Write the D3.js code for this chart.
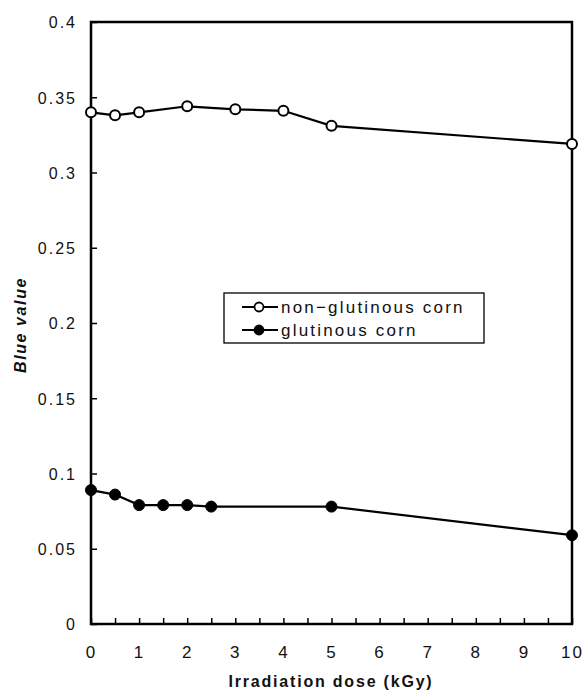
<!DOCTYPE html>
<html>
<head>
<meta charset="utf-8">
<script src="https://cdn.jsdelivr.net/npm/d3@7"></script>
<style>
  html, body { margin: 0; padding: 0; background: #fff; }
  svg { display: block; }
  text { font-family: "Liberation Sans", Arial, Helvetica, sans-serif; fill: #111; }
</style>
</head>
<body>
<svg id="chart" width="586" height="690"></svg>
<script>
// ---- data ----
const nonGlutinousDose  = [0, 0.5, 1, 2, 3, 4, 5, 10];
const nonGlutinousValue = [0.340, 0.338, 0.340, 0.344, 0.342, 0.341, 0.331, 0.319];
const glutinousDose     = [0, 0.5, 1, 1.5, 2, 2.5, 5, 10];
const glutinousValue    = [0.089, 0.086, 0.079, 0.079, 0.079, 0.078, 0.078, 0.059];
const xTickValues = [0, 1, 2, 3, 4, 5, 6, 7, 8, 9, 10];
const xMinorTicks = d3.range(0, 10.01, 0.5);
const yTickValues = [0, 0.05, 0.1, 0.15, 0.2, 0.25, 0.3, 0.35, 0.4];
const seriesNames = ["non\u2212glutinous corn", "glutinous corn"];

const svg = d3.select("#chart");
const L = 91, R = 572, T = 22, B = 624;

const x = d3.scaleLinear().domain([0, 10]).range([L, R]);
const y = d3.scaleLinear().domain([0, 0.4]).range([B, T]);

// frame
svg.append("rect").attr("x", L).attr("y", T).attr("width", R - L).attr("height", B - T)
  .attr("fill", "none").attr("stroke", "#000").attr("stroke-width", 2.5);

// y axis
const yAxis = d3.axisLeft(y).tickValues(yTickValues).tickSize(-6).tickPadding(14)
  .tickFormat(d => d === 0 ? "0" : String(+d.toFixed(2)));
const gy = svg.append("g").attr("transform", `translate(${L},0)`).call(yAxis);
gy.select(".domain").remove();
gy.selectAll(".tick line").attr("stroke", "#000").attr("stroke-width", 1.5);
gy.selectAll(".tick text").attr("font-size", 16).style("letter-spacing", "2px")
  .attr("fill", "#111").attr("dy", "0.36em");

// x axis minor/major ticks (inward)
const gxTicks = svg.append("g").attr("transform", `translate(0,${B})`)
  .call(d3.axisBottom(x).tickValues(xMinorTicks).tickSize(-6).tickFormat(""));
gxTicks.select(".domain").remove();
gxTicks.selectAll(".tick line").attr("stroke", "#000").attr("stroke-width", 1.5);

const gx = svg.append("g").attr("transform", `translate(0,${B})`)
  .call(d3.axisBottom(x).tickValues(xTickValues).tickSize(0).tickPadding(22));
gx.select(".domain").remove();
gx.selectAll(".tick text").attr("font-size", 17).style("letter-spacing", "2px").attr("fill", "#111");

// axis titles
svg.append("text").attr("x", 331).attr("y", 687).attr("text-anchor", "middle")
  .attr("font-size", 16).attr("font-weight", "bold").style("letter-spacing", "1.8px")
  .text("Irradiation dose (kGy)");
svg.append("text").attr("transform", "translate(26,325) rotate(-90)")
  .attr("text-anchor", "middle").attr("font-size", 16).attr("font-weight", "bold")
  .attr("font-style", "italic").style("letter-spacing", "1.6px")
  .text("Blue value");

// lines
const line = d3.line().x(d => x(d[0])).y(d => y(d[1]));
const s1 = nonGlutinousDose.map((d, i) => [d, nonGlutinousValue[i]]);
const s2 = glutinousDose.map((d, i) => [d, glutinousValue[i]]);

svg.append("path").datum(s1).attr("d", line).attr("fill", "none").attr("stroke", "#000").attr("stroke-width", 2.2);
svg.append("path").datum(s2).attr("d", line).attr("fill", "none").attr("stroke", "#000").attr("stroke-width", 2.2);

svg.selectAll("circle.open").data(s1).enter().append("circle").attr("class", "open")
  .attr("cx", d => x(d[0])).attr("cy", d => y(d[1])).attr("r", 5)
  .attr("fill", "#fff").attr("stroke", "#000").attr("stroke-width", 2);
svg.selectAll("circle.filled").data(s2).enter().append("circle").attr("class", "filled")
  .attr("cx", d => x(d[0])).attr("cy", d => y(d[1])).attr("r", 5.5)
  .attr("fill", "#000").attr("stroke", "#000").attr("stroke-width", 1);

// legend
const lg = svg.append("g");
lg.append("rect").attr("x", 224).attr("y", 293).attr("width", 260).attr("height", 50)
  .attr("fill", "#fff").attr("stroke", "#000").attr("stroke-width", 1.3);
const rows = [{name: seriesNames[0], fill: "#fff", y: 307}, {name: seriesNames[1], fill: "#000", y: 330}];
rows.forEach(r => {
  lg.append("line").attr("x1", 242).attr("x2", 278).attr("y1", r.y).attr("y2", r.y)
    .attr("stroke", "#000").attr("stroke-width", 2);
  lg.append("circle").attr("cx", 259).attr("cy", r.y).attr("r", 4.5)
    .attr("fill", r.fill).attr("stroke", "#000").attr("stroke-width", 1.8);
  lg.append("text").attr("x", 281).attr("y", r.y).attr("dy", "0.35em")
    .attr("font-size", 17).style("letter-spacing", "2.2px").text(r.name);
});
</script>
</body>
</html>
